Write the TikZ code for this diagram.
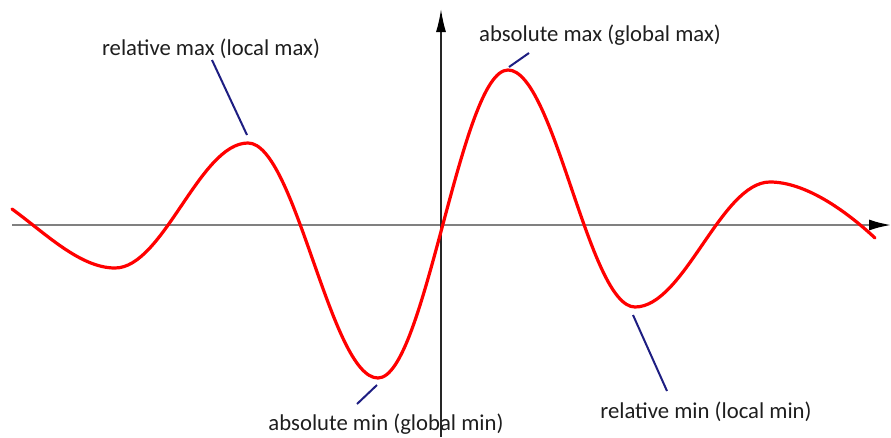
\documentclass[tikz,border=0pt]{standalone}
\usepackage{fontspec}
\setmainfont{Carlito}
\usetikzlibrary{arrows.meta}
\definecolor{leader}{RGB}{30,30,130}
\definecolor{axisgray}{RGB}{128,128,128}
\definecolor{txt}{RGB}{30,30,30}
\tikzset{
  lbl/.style={font=\fontsize{22.7}{27}\selectfont, text=txt, inner sep=0pt, anchor=center},
  leaderline/.style={draw=leader, line width=2pt},
  curveline/.style={draw=red, line width=3.2pt, line join=round, line cap=round}
}
\begin{document}
\begin{tikzpicture}[x=1pt,y=-1pt]
\useasboundingbox (0,0) rectangle (891,437);
% axes
\coordinate (xs) at (12,225);
\coordinate (xe) at (891,225);
\coordinate (ys) at (441,437);
\coordinate (ye) at (441,9);
\draw[axisgray, line width=2pt, -{Latex[length=22pt,width=11pt,fill=black,color=black]}] (xs) -- (xe);
\draw[black!85, line width=1.6pt, -{Latex[length=23pt,width=10pt,fill=black,color=black]}] (ys) -- (ye);
% curve
\coordinate (c0) at (12,209);
\coordinate (e1) at (115,268);
\coordinate (e2) at (248,143);
\coordinate (e3) at (378,378);
\coordinate (e4) at (508,70);
\coordinate (e5) at (635,307);
\coordinate (e6) at (770,182);
\coordinate (c7) at (875,238);
\draw[curveline] (c0) .. controls (45,233) and (80,268) .. (e1)
  .. controls (163.4,268) and (199.6,143) .. (e2)
  .. controls (295.3,143) and (330.7,378) .. (e3)
  .. controls (425.3,378) and (460.7,70) .. (e4)
  .. controls (554.2,70) and (588.8,307) .. (e5)
  .. controls (684.1,307) and (720.9,182) .. (e6)
  .. controls (805,182) and (845,210) .. (c7);
% labels
\node[lbl] (rmax) at (211,49) {relative max (local max)};
\node[lbl] (amax) at (600,35) {absolute max (global max)};
\node[lbl] (amin) at (386,424.5) {absolute min (global min)};
\node[lbl] (rmin) at (706,412) {relative min (local min)};
% leader ends
\coordinate (p1a) at (212,60);  \coordinate (p1b) at (247,135);
\coordinate (p2a) at (529,53);  \coordinate (p2b) at (509,67);
\coordinate (p3a) at (357,404); \coordinate (p3b) at (377,385);
\coordinate (p4a) at (667,391); \coordinate (p4b) at (633,315);
\draw[leaderline] (p1a) -- (p1b);
\draw[leaderline] (p2a) -- (p2b);
\draw[leaderline] (p3a) -- (p3b);
\draw[leaderline] (p4a) -- (p4b);
\end{tikzpicture}
\end{document}
